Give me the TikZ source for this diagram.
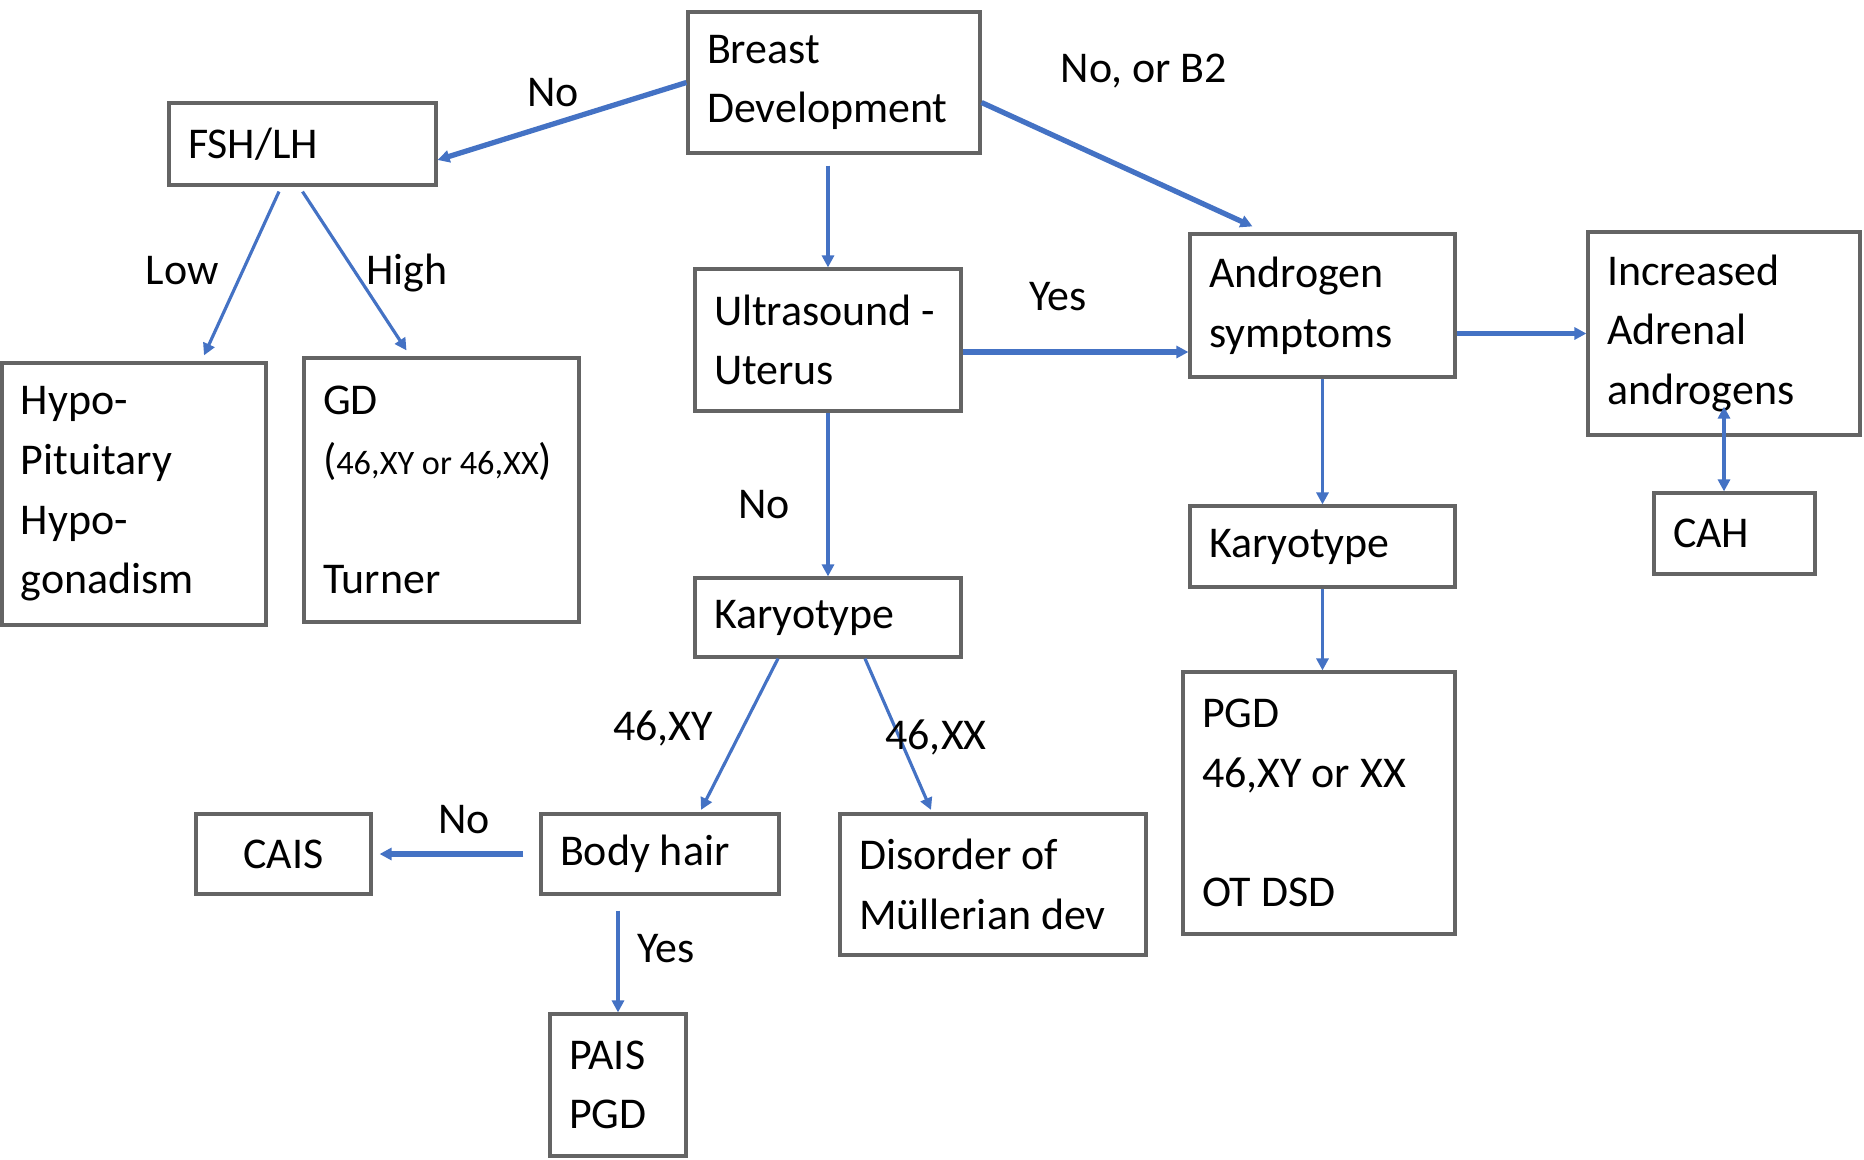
\documentclass[tikz,border=0pt]{standalone}
\usepackage{fontspec}
\setmainfont{Carlito}
\usetikzlibrary{arrows.meta, positioning, calc}
\definecolor{arrowblue}{RGB}{68,114,196}
\definecolor{boxgray}{RGB}{100,100,100}

\begin{document}
\begin{tikzpicture}[
  >={Triangle[length=0.24cm, width=0.24cm]},
  box/.style={draw=boxgray, line width=1.8pt, inner xsep=0.38cm, inner ysep=0pt, align=flush left, font=\fontsize{25}{34}\selectfont},
  lbl/.style={font=\fontsize{25}{34}\selectfont, inner sep=0pt},
  arr/.style={draw=arrowblue, line width=1.8pt, ->},
  thickarr/.style={arr, line width=3pt}
]
  \useasboundingbox (0,0) rectangle (37.28,-23.2);

  % boxes
  \node[box, text width=5.08cm, minimum height=2.82cm] (breast) at (16.68,-1.65) {Breast\\Development};
  \node[box, text width=4.58cm, minimum height=1.64cm] (fshlh) at (6.05,-2.88) {FSH/LH};
  \node[box, text width=4.52cm, minimum height=5.24cm] (hypo) at (2.68,-9.88) {Hypo-\\Pituitary\\Hypo-\\gonadism};
  \node[box, text width=4.74cm, minimum height=5.28cm] (gd) at (8.83,-9.8) {GD\\({\fontsize{19.5}{34}\selectfont 46,XY or 46,XX})\\~\\Turner};
  \node[box, text width=4.56cm, minimum height=2.84cm] (ultra) at (16.56,-6.8) {Ultrasound -\\Uterus};
  \node[box, text width=4.54cm, minimum height=2.86cm] (andro) at (26.45,-6.11) {Androgen\\symptoms};
  \node[box, text width=4.68cm, minimum height=4.06cm] (adrenal) at (34.48,-6.67) {Increased\\Adrenal\\androgens};
  \node[box, text width=2.46cm, minimum height=1.62cm] (cah) at (34.69,-10.67) {CAH};
  \node[box, text width=4.54cm, minimum height=1.62cm] (karyoR) at (26.45,-10.93) {Karyotype};
  \node[box, text width=4.68cm, minimum height=5.24cm] (pgd) at (26.38,-16.06) {PGD\\46,XY or XX\\~\\OT DSD};
  \node[box, text width=4.56cm, minimum height=1.58cm] (karyoM) at (16.56,-12.35) {Karyotype};
  \node[box, text width=4.0cm, minimum height=1.6cm] (hair) at (13.2,-17.08) {Body hair};
  \node[box, text width=2.74cm, minimum height=1.6cm, align=center] (cais) at (5.67,-17.08) {CAIS};
  \node[box, text width=5.36cm, minimum height=2.82cm] (muller) at (19.86,-17.69) {Disorder of\\Müllerian dev};
  \node[box, text width=1.96cm, minimum height=2.84cm] (pais) at (12.36,-21.7) {PAIS\\PGD};

  % connectors
  \draw[thickarr] (breast.west) -- ([yshift=-0.32cm]fshlh.east);
  \draw[thickarr] ([yshift=-0.4cm]breast.east) -- ([xshift=-1.4cm,yshift=0.12cm]andro.north);
  \draw[arr] ($(ultra.north |- breast.south)+(0,-0.22)$) -- (ultra.north);
  \draw[arr] ([xshift=-0.47cm,yshift=-0.1cm]fshlh.south) -- ([xshift=1.4cm,yshift=0.12cm]hypo.north);
  \draw[arr] ([yshift=-0.1cm]fshlh.south) -- ([xshift=-0.7cm,yshift=0.12cm]gd.north);
  \coordinate (yesstart) at ([yshift=-0.24cm]ultra.east);
  \draw[thickarr] (yesstart) -- (yesstart -| andro.west);
  \draw[arr] (ultra.south) -- (karyoM.north);
  \draw[thickarr] (andro.east |- adrenal.west) -- (adrenal.west);
  \draw[arr, <->] ([yshift=0.6cm]adrenal.south) -- (adrenal.south |- cah.north);
  \draw[arr] (andro.south) -- (karyoR.north);
  \draw[arr] (karyoR.south) -- (karyoR.south |- pgd.north);
  \draw[arr] ([xshift=-1cm]karyoM.south) -- ([xshift=0.82cm,yshift=0.05cm]hair.north);
  \draw[arr] ([xshift=0.74cm]karyoM.south) -- ([xshift=-1.24cm,yshift=0.05cm]muller.north);
  \draw[thickarr] ([xshift=-0.32cm]hair.west) -- ([xshift=0.14cm]cais.east);
  \draw[arr] ($(hair.south -| pais.north)+(0,-0.3)$) -- (pais.north);

  % labels
  \node[lbl] (nofsh) at (11.06,-1.86) {No};
  \node[lbl] (nob2) at (22.88,-1.42) {No, or B2};
  \node[lbl] (low) at (3.64,-5.42) {Low};
  \node[lbl] (high) at (8.14,-5.46) {High};
  \node[lbl] (yesandro) at (21.16,-5.94) {Yes};
  \node[lbl] (nouterus) at (15.28,-10.1) {No};
  \node[lbl] (xy) at (13.26,-14.56) {46,XY};
  \node[lbl] (xx) at (18.72,-14.74) {46,XX};
  \node[lbl] (nohair) at (9.28,-16.4) {No};
  \node[lbl] (yeshair) at (13.32,-18.98) {Yes};
\end{tikzpicture}
\end{document}
